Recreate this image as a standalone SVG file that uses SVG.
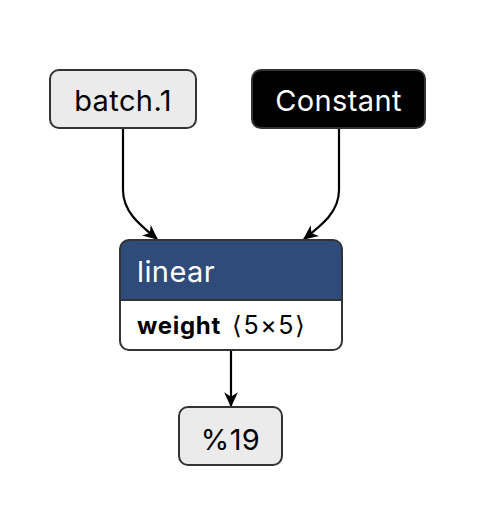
<svg xmlns="http://www.w3.org/2000/svg" width="500" height="512" viewBox="0 0 500 512">
<style>
text{font-family:Inter,"Liberation Sans",sans-serif;font-size:29px;letter-spacing:0.4px}
.box{stroke:#333;stroke-width:2}
.edge{fill:none;stroke:#000;stroke-width:2.2}
.sub{font-size:24px;letter-spacing:0.7px}
.dim{font-weight:normal;font-size:25px;letter-spacing:1.5px}
</style>
<defs>
<marker id="ah" viewBox="0 0 12 12" refX="11" refY="6" markerWidth="15" markerHeight="15" markerUnits="userSpaceOnUse" orient="auto">
<path d="M0,0.5 L12,6 L0,11.5 L3.5,6 Z" fill="#000"/>
</marker>
</defs>
<rect width="500" height="512" fill="#fff"/>
<g id="edges">
<path class="edge" d="M123,128 L123,190 C123,212 140,225 157,239" marker-end="url(#ah)"/>
<path class="edge" d="M339,128 L339,190 C339,212 322,225 304,239" marker-end="url(#ah)"/>
<path class="edge" d="M231,350 L231,406" marker-end="url(#ah)"/>
</g>
<g id="batch1">
<rect class="box" x="50" y="70" width="146" height="58" rx="9" fill="#ebebeb"/>
<text x="123" y="111" text-anchor="middle" fill="#000">batch.1</text>
</g>
<g id="constant">
<rect class="box" x="252" y="70" width="173" height="58" rx="9" fill="#000"/>
<text x="338.5" y="111" text-anchor="middle" fill="#fff">Constant</text>
</g>
<g id="linear">
<path d="M129,240 H333 A9,9 0 0 1 342,249 V300 H120 V249 A9,9 0 0 1 129,240 Z" fill="#2e4b79"/>
<rect class="box" x="120" y="240" width="222" height="110" rx="9" fill="none"/>
<line x1="120" y1="300" x2="342" y2="300" stroke="#333" stroke-width="2"/>
<text x="137" y="282" fill="#fff">linear</text>
<text class="sub" x="137" y="334" fill="#000" font-weight="bold">weight<tspan class="dim" x="232">⟨5×5⟩</tspan></text>
</g>
<g id="n19">
<rect class="box" x="179" y="407" width="103" height="58" rx="9" fill="#ebebeb"/>
<text x="230.5" y="450" text-anchor="middle" fill="#000">%19</text>
</g>
</svg>
